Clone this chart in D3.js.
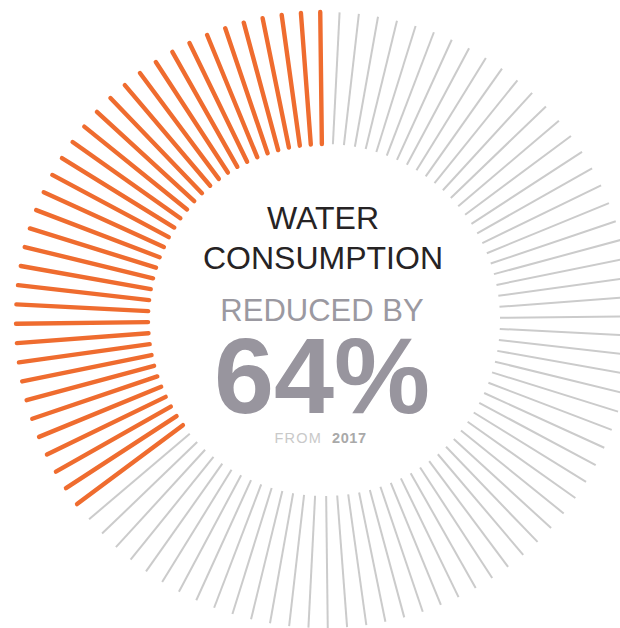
<!DOCTYPE html>
<html>
<head>
<meta charset="utf-8">
<script src="https://cdn.jsdelivr.net/npm/d3@7"></script>
<style>
  html, body { margin: 0; padding: 0; background: #ffffff; }
  svg { display: block; }
  text { font-family: "Liberation Sans", Arial, Helvetica, sans-serif; }
</style>
</head>
<body>
<svg id="chart" width="620" height="628"></svg>
<script>
// ---- data ----
const segmentNames  = ["remaining", "reduced"];
const segmentCounts = [36, 64];          // ticks per segment (out of 100)
const titleLines    = ["WATER", "CONSUMPTION"];
const subtitleText  = "REDUCED BY";
const valueText     = "64%";
const fromLabel     = "FROM";
const fromYear      = "2017";

// ---- layout ----
const W = 620, H = 628;
const cx = 324, cy = 320;
const outerR = 308, innerR = 176;
const rotationDeg = 0.7;

const svg = d3.select("#chart");

// build tick list from segments
const ticks = [];
segmentNames.forEach((name, si) => {
  for (let k = 0; k < segmentCounts[si]; k++) ticks.push({ seg: name });
});
const total = ticks.length;

// angle scale: index -> angle (radians, counter-clockwise from top)
const angle = d3.scaleLinear()
  .domain([0, total])
  .range([rotationDeg * Math.PI / 180, rotationDeg * Math.PI / 180 + 2 * Math.PI]);

const color = d3.scaleOrdinal().domain(segmentNames).range(["#ef6c2f", "#cbcbcb"]);
const width = d3.scaleOrdinal().domain(segmentNames).range([4.4, 2]);
const cap   = d3.scaleOrdinal().domain(segmentNames).range(["round", "butt"]);

const g = svg.append("g");
g.selectAll("line.tick")
  .data(ticks)
  .join("line")
  .attr("class", "tick")
  .attr("x1", (d, i) => cx - innerR * Math.sin(angle(i)))
  .attr("y1", (d, i) => cy - innerR * Math.cos(angle(i)))
  .attr("x2", (d, i) => cx - outerR * Math.sin(angle(i)))
  .attr("y2", (d, i) => cy - outerR * Math.cos(angle(i)))
  .attr("stroke", d => color(d.seg))
  .attr("stroke-width", d => width(d.seg))
  .attr("stroke-linecap", d => cap(d.seg));

// ---- center text ----
const tx = 323;
const t = svg.append("g").attr("text-anchor", "middle");

t.selectAll("text.title")
  .data(titleLines)
  .join("text")
  .attr("class", "title")
  .attr("x", tx)
  .attr("y", (d, i) => 229 + i * 40)
  .attr("font-size", 32)
  .attr("fill", "#262324")
  .text(d => d);

t.append("text")
  .attr("x", tx - 1)
  .attr("y", 321)
  .attr("font-size", 31)
  .attr("fill", "#9b99a1")
  .text(subtitleText);

t.append("text")
  .attr("x", tx - 1)
  .attr("y", 413)
  .attr("font-size", 108)
  .attr("font-weight", "bold")
  .attr("fill", "#98959e")
  .text(valueText);

t.append("text")
  .attr("x", 322)
  .attr("y", 443)
  .attr("text-anchor", "end")
  .attr("font-size", 14.5)
  .attr("letter-spacing", 1.2)
  .attr("fill", "#c9c9c9")
  .text(fromLabel);

t.append("text")
  .attr("x", 332)
  .attr("y", 443)
  .attr("text-anchor", "start")
  .attr("font-size", 14.5)
  .attr("letter-spacing", 0.6)
  .attr("font-weight", "bold")
  .attr("fill", "#a9a9a9")
  .text(fromYear);
</script>
</body>
</html>
